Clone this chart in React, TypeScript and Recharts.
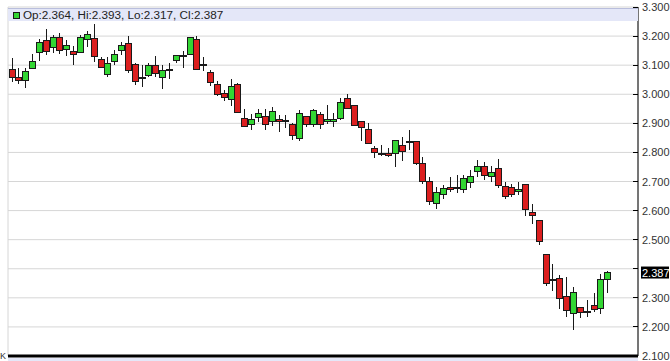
import React from "react";
import {
  Bar,
  CartesianGrid,
  ComposedChart,
  ReferenceLine,
  XAxis,
  YAxis
} from "recharts";

// daily OHLC
const open = [
  3.086, 3.058, 3.046, 3.087, 3.142, 3.186, 3.16, 3.195, 3.154, 3.148, 3.144, 3.189, 3.192, 3.121, 3.069, 3.114,
  3.152, 3.175, 3.104, 3.056, 3.063, 3.098, 3.058, 3.083, 3.117, 3.131, 3.138, 3.189, 3.102, 3.075, 3.035, 3.003,
  2.982, 3.035, 2.917, 2.896, 2.92, 2.925, 2.908, 2.913, 2.907, 2.896, 2.848, 2.925, 2.897, 2.932, 2.905, 2.905,
  2.917, 2.986, 2.96, 2.905, 2.879, 2.815, 2.796, 2.796, 2.796, 2.825, 2.836, 2.836, 2.762, 2.701, 2.624, 2.655,
  2.681, 2.676, 2.672, 2.695, 2.733, 2.753, 2.716, 2.745, 2.684, 2.679, 2.664, 2.691, 2.594, 2.567, 2.449, 2.36,
  2.366, 2.303, 2.246, 2.267, 2.251, 2.274, 2.263, 2.364
];
const high = [
  3.124, 3.09, 3.09, 3.137, 3.19, 3.224, 3.203, 3.209, 3.186, 3.166, 3.203, 3.217, 3.241, 3.129, 3.129, 3.152,
  3.18, 3.2, 3.106, 3.1, 3.108, 3.131, 3.1, 3.106, 3.134, 3.149, 3.197, 3.2, 3.127, 3.085, 3.046, 3.014,
  3.051, 3.037, 2.948, 2.932, 2.948, 2.948, 2.957, 2.928, 2.928, 2.901, 2.945, 2.925, 2.951, 2.939, 2.962, 2.934,
  2.986, 3.0, 2.962, 2.909, 2.902, 2.821, 2.825, 2.814, 2.844, 2.853, 2.876, 2.836, 2.785, 2.714, 2.681, 2.687,
  2.714, 2.722, 2.722, 2.739, 2.773, 2.766, 2.753, 2.779, 2.699, 2.693, 2.699, 2.691, 2.624, 2.569, 2.449, 2.415,
  2.378, 2.372, 2.337, 2.267, 2.292, 2.315, 2.383, 2.393
];
const low = [
  3.042, 3.035, 3.021, 3.086, 3.114, 3.135, 3.141, 3.137, 3.131, 3.102, 3.141, 3.163, 3.111, 3.089, 3.06, 3.102,
  3.135, 3.074, 3.031, 3.025, 3.06, 3.058, 3.017, 3.051, 3.106, 3.089, 3.138, 3.085, 3.08, 3.029, 2.993, 2.977,
  2.959, 2.934, 2.888, 2.877, 2.905, 2.877, 2.891, 2.871, 2.884, 2.844, 2.84, 2.888, 2.888, 2.882, 2.899, 2.888,
  2.913, 2.948, 2.89, 2.839, 2.831, 2.78, 2.788, 2.785, 2.75, 2.771, 2.808, 2.756, 2.691, 2.618, 2.607, 2.641,
  2.664, 2.659, 2.659, 2.676, 2.716, 2.705, 2.699, 2.679, 2.641, 2.647, 2.653, 2.581, 2.553, 2.481, 2.34, 2.324,
  2.263, 2.234, 2.188, 2.229, 2.234, 2.251, 2.244, 2.317
];
const close = [
  3.059, 3.047, 3.077, 3.114, 3.178, 3.146, 3.195, 3.151, 3.169, 3.137, 3.195, 3.206, 3.129, 3.091, 3.106, 3.138,
  3.169, 3.08, 3.043, 3.056, 3.1, 3.071, 3.08, 3.083, 3.132, 3.131, 3.195, 3.085, 3.102, 3.041, 3.0, 2.989,
  3.025, 2.937, 2.888, 2.913, 2.934, 2.896, 2.942, 2.907, 2.907, 2.858, 2.934, 2.897, 2.945, 2.896, 2.913, 2.913,
  2.97, 2.951, 2.894, 2.886, 2.831, 2.799, 2.796, 2.792, 2.842, 2.802, 2.836, 2.762, 2.699, 2.63, 2.661, 2.676,
  2.672, 2.676, 2.71, 2.718, 2.753, 2.722, 2.731, 2.685, 2.647, 2.655, 2.674, 2.604, 2.584, 2.492, 2.351, 2.36,
  2.298, 2.257, 2.318, 2.251, 2.251, 2.26, 2.363, 2.387
];

const emptySlots = 4;
const monthStarts = [20, 41, 62, 84];
const priceTicks = [2.1, 2.2, 2.3, 2.4, 2.5, 2.6, 2.7, 2.8, 2.9, 3.0, 3.1, 3.2, 3.3];
const lastPrice = 2.387;

const UP = "#33d633";
const DOWN = "#dc1f1f";
const EDGE = "#1a1a1a";

const data = [
  ...open.map((o, i) => ({ day: i + 1, open: o, high: high[i], low: low[i], close: close[i] })),
  ...Array.from({ length: emptySlots }, (_, i) => ({ day: open.length + i + 1 }))
];

function Candle(props: any) {
  const { x, y, width, height, payload } = props;
  if (payload == null || payload.high == null) return null;
  const top = Math.min(y, y + height);
  const h = Math.abs(height);
  const range = payload.high - payload.low;
  const toY = (v: number) => top + ((payload.high - v) / range) * h;
  const cx = Math.round(x + width / 2) + 0.5;
  const yo = toY(payload.open);
  const yc = toY(payload.close);
  const isDoji = Math.abs(payload.open - payload.close) < 0.002;
  return (
    <g shapeRendering="crispEdges">
      <line x1={cx} x2={cx} y1={top} y2={top + h} stroke={EDGE} strokeWidth={1} />
      {isDoji ? (
        <line x1={cx - 3.5} x2={cx + 3.5} y1={yo} y2={yo} stroke={EDGE} strokeWidth={2} />
      ) : (
        <rect
          x={cx - 3}
          y={Math.min(yo, yc)}
          width={6}
          height={Math.max(Math.abs(yo - yc), 2)}
          fill={payload.close > payload.open ? UP : DOWN}
          stroke={EDGE}
          strokeWidth={1}
        />
      )}
    </g>
  );
}

function PriceTick(props: any) {
  const { x, y, payload } = props;
  const v = Number(payload.value);
  return (
    <g>
      <line x1={x - 9} x2={x - 4} y1={y} y2={y} stroke="#000" shapeRendering="crispEdges" />
      {Math.abs(v - 2.4) > 0.001 && (
        <text x={x} y={y} dy={4} fill="#333" fontSize={11} fontFamily="Liberation Sans, Arial, sans-serif">
          {v.toFixed(3)}
        </text>
      )}
    </g>
  );
}

function PriceBadge(props: any) {
  const vb = props.viewBox;
  if (!vb) return null;
  const bx = vb.x + vb.width + 3;
  return (
    <g>
      <rect x={bx} y={vb.y - 6} width={28} height={12} fill="#000" />
      <text x={bx + 1} y={vb.y + 4} fill="#fff" fontSize={11} fontFamily="Liberation Sans, Arial, sans-serif">
        {lastPrice.toFixed(3)}
      </text>
    </g>
  );
}

export default function App() {
  return (
    <div style={{ position: "absolute", left: 0, top: 0, width: 670, height: 361, background: "#fff" }}>
      <ComposedChart
        width={670}
        height={361}
        data={data}
        margin={{ top: 7, right: 0, bottom: 5, left: 8 }}
        barCategoryGap={0}
      >
        <CartesianGrid yAxisId="price" stroke="#d6d6d6" />
        <XAxis
          dataKey="day"
          type="category"
          ticks={monthStarts}
          interval={0}
          height={0}
          tick={false}
          tickLine={false}
          axisLine={false}
        />
        <YAxis yAxisId="left" orientation="left" width={0} domain={[2.1, 3.3]} tick={false} tickLine={false} axisLine={{ stroke: "#000" }} />
        <YAxis
          yAxisId="price"
          orientation="right"
          width={32}
          domain={[2.1, 3.3]}
          ticks={priceTicks}
          interval={0}
          tickSize={0}
          tickMargin={4}
          tick={<PriceTick />}
          axisLine={{ stroke: "#000" }}
        />
        <Bar
          yAxisId="price"
          dataKey={(d: any) => (d.high == null ? undefined : [d.low, d.high])}
          shape={<Candle />}
          isAnimationActive={false}
        />
        <ReferenceLine yAxisId="price" y={2.1} stroke="#000" strokeWidth={3} />
        <ReferenceLine yAxisId="price" y={lastPrice} stroke="none" label={<PriceBadge />} />
      </ComposedChart>

      <div
        style={{
          position: "absolute",
          left: 8,
          top: 8,
          width: 630,
          height: 12,
          background: "#e4e7f8",
          borderTop: "1px solid #b9bedc",
          fontFamily: "Liberation Sans, Arial, sans-serif",
          fontSize: 11.7,
          lineHeight: "12px",
          color: "#222",
          whiteSpace: "nowrap"
        }}
      >
        <span
          style={{
            position: "absolute",
            left: 5,
            top: 3,
            width: 5,
            height: 5,
            background: UP,
            border: "1px solid #1a1a1a"
          }}
        />
        <span style={{ position: "absolute", left: 15, top: 0 }}>Op:2.364, Hi:2.393, Lo:2.317, Cl:2.387</span>
      </div>
      <div style={{ position: "absolute", left: 8, top: 358, width: 630, height: 3, background: "#e4e7f8" }} />
      <div
        style={{
          position: "absolute",
          left: 0,
          top: 351,
          fontFamily: "Liberation Sans, Arial, sans-serif",
          fontSize: 9,
          color: "#333"
        }}
      >
        K
      </div>
    </div>
  );
}
